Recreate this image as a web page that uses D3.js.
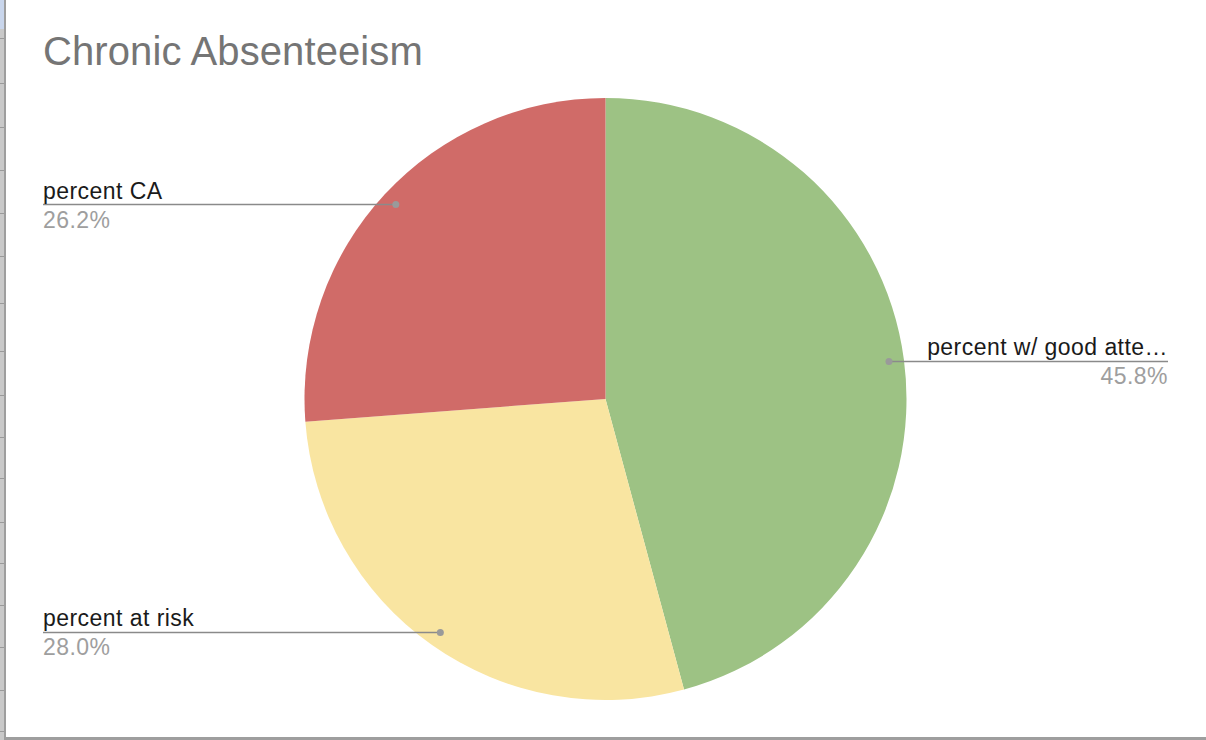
<!DOCTYPE html>
<html>
<head>
<meta charset="utf-8">
<script src="https://cdn.jsdelivr.net/npm/d3@7"></script>
<style>
  html, body { margin: 0; padding: 0; background: #fff; }
  svg { display: block; font-family: "Liberation Sans", Arial, sans-serif; }
</style>
</head>
<body>
<svg id="chart" width="1206" height="740"></svg>
<script>
// ---- data ----
const categories = ["percent w/ good atte\u2026", "percent at risk", "percent CA"];
const values = [45.8, 28.0, 26.2];
const percentLabels = ["45.8%", "28.0%", "26.2%"];
const colors = ["#9dc284", "#f9e5a1", "#d06b68"];
const labelSide = ["right", "left", "left"];
const title = "Chronic Absenteeism";
const frameTicks = [38, 83, 127, 170, 213, 256, 303, 351, 395, 437, 478, 522, 563, 605, 647, 690, 731];

const W = 1206, H = 740;
const svg = d3.select("#chart");

// spreadsheet frame
svg.append("rect").attr("x", 0).attr("y", 0).attr("width", 4).attr("height", H).attr("fill", "#c9c9c9");
svg.append("rect").attr("x", 0).attr("y", 0).attr("width", 4).attr("height", 29).attr("fill", "#c9d6ec");
svg.selectAll("line.ftick").data(frameTicks).join("line")
  .attr("x1", 0).attr("x2", 4).attr("y1", d => d + 0.5).attr("y2", d => d + 0.5)
  .attr("stroke", "#9a9a9a").attr("stroke-width", 1);
svg.append("rect").attr("x", 4).attr("y", 0).attr("width", 2).attr("height", H).attr("fill", "#9e9e9e");
svg.append("rect").attr("x", 4).attr("y", H - 3).attr("width", W - 4).attr("height", 3).attr("fill", "#9e9e9e");

// title
svg.append("text").attr("x", 43).attr("y", 65)
  .attr("font-size", 40).attr("letter-spacing", 0.1).attr("fill", "#757575").text(title);

// pie
const cx = 605.5, cy = 399, r = 301;
const g = svg.append("g").attr("transform", `translate(${cx},${cy})`);
const pie = d3.pie().sort(null).value(d => d)(values);
const arc = d3.arc().innerRadius(0).outerRadius(r);
g.selectAll("path").data(pie).join("path")
  .attr("d", arc)
  .attr("fill", (d, i) => colors[i]);

// label anchors
const anchorArc = d3.arc().innerRadius(r * 0.95).outerRadius(r * 0.95);
const leftX = 43, rightX = 1168;
pie.forEach((d, i) => {
  const [ax, ay] = anchorArc.centroid(d);
  const px = cx + ax, py = cy + ay;
  const side = labelSide[i];
  const endX = side === "left" ? leftX : rightX;
  svg.append("line")
    .attr("x1", px).attr("y1", py).attr("x2", endX).attr("y2", py)
    .attr("stroke", "#8a8a8a").attr("stroke-width", 1.5);
  svg.append("circle").attr("cx", px).attr("cy", py).attr("r", 3.5).attr("fill", "#9a9a9a");
  const anchor = side === "left" ? "start" : "end";
  svg.append("text").attr("x", endX).attr("y", py - 6)
    .attr("text-anchor", anchor).attr("font-size", 23).attr("letter-spacing", 0.45).attr("fill", "#1a1a1a")
    .text(categories[i]);
  svg.append("text").attr("x", endX).attr("y", py + 23)
    .attr("text-anchor", anchor).attr("font-size", 23).attr("letter-spacing", 0.45).attr("fill", "#9e9e9e")
    .text(percentLabels[i]);
});
</script>
</body>
</html>
